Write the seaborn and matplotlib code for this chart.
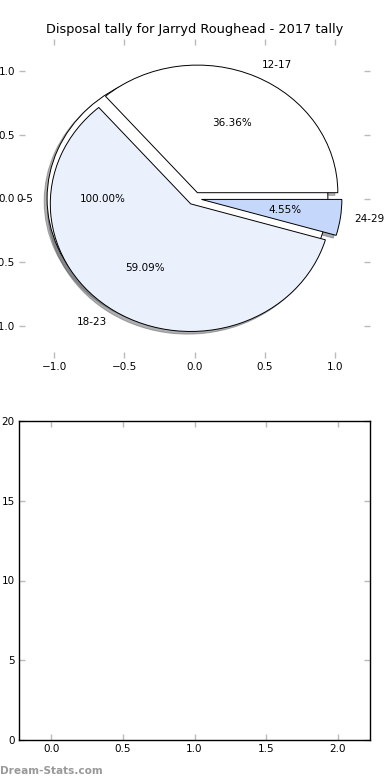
import matplotlib
matplotlib.use('Agg')
import matplotlib.pyplot as plt
import seaborn as sns

# data
first_labels = ['0-5']
first_values = [1]
age_labels = ['12-17', '18-23', '24-29']
age_values = [8, 13, 1]
colors = ['#ffffff', '#eaf0fc', '#c5d8fb']
title = 'Disposal tally for Jarryd Roughead - 2017 tally'

sns.set_style('white')
plt.rcParams['font.family'] = ['DejaVu Sans']
plt.rcParams['font.size'] = 7.5
plt.rcParams['text.color'] = 'black'

fig = plt.figure(figsize=(3.9, 7.8), dpi=100)
ax = fig.add_axes([19 / 390, 1 - 358 / 780, 351 / 390, 319 / 780])
ax2 = fig.add_axes([19 / 390, 1 - 740 / 780, 351 / 390, 319 / 780])

shadow = {'ox': -0.015, 'oy': -0.015, 'shade': 0.6}
# pie drawn twice, like the original
ax.pie(first_values, labels=first_labels, autopct='%.2f%%', explode=[0.05],
       colors=['#ffffff'], shadow=shadow, startangle=0, frame=True,
       wedgeprops={'edgecolor': 'black', 'linewidth': 0.7},
       textprops={'fontsize': 7.5, 'color': 'black'})
ax.pie(age_values, labels=age_labels, autopct='%.2f%%', explode=[0.05] * 3,
       colors=colors, shadow=shadow, startangle=0, frame=True,
       wedgeprops={'edgecolor': 'black', 'linewidth': 0.7},
       textprops={'fontsize': 7.5, 'color': 'black'})
ax.set_aspect('auto')
ax.set_xlim(-1.25, 1.25)
ax.set_ylim(-1.25, 1.25)
ax.set_xticks([-1.0, -0.5, 0.0, 0.5, 1.0])
ax.set_yticks([-1.0, -0.5, 0.0, 0.5, 1.0])
for s in ax.spines.values():
    s.set_visible(False)
ax.set_title(title, fontsize=9.3, pad=4, color='black')

ax2.set_xlim(-0.225, 2.225)
ax2.set_ylim(0, 20)
ax2.set_xticks([0.0, 0.5, 1.0, 1.5, 2.0])
ax2.set_yticks([0, 5, 10, 15, 20])
for s in ax2.spines.values():
    s.set_visible(True)
    s.set_color('black')
    s.set_linewidth(1.0)

for a in (ax, ax2):
    a.tick_params(direction='in', length=4, width=1, color='#bbbbbb',
                  labelcolor='black', top=True, right=True, bottom=True,
                  left=True, labelsize=7.5, pad=3)
    a.set_facecolor('none')

fig.text(0.0, 4 / 780, 'Dream-Stats.com', color='#999999', fontsize=7.6,
         fontweight='bold', ha='left', va='bottom')

fig.savefig('out.png', dpi=100)
